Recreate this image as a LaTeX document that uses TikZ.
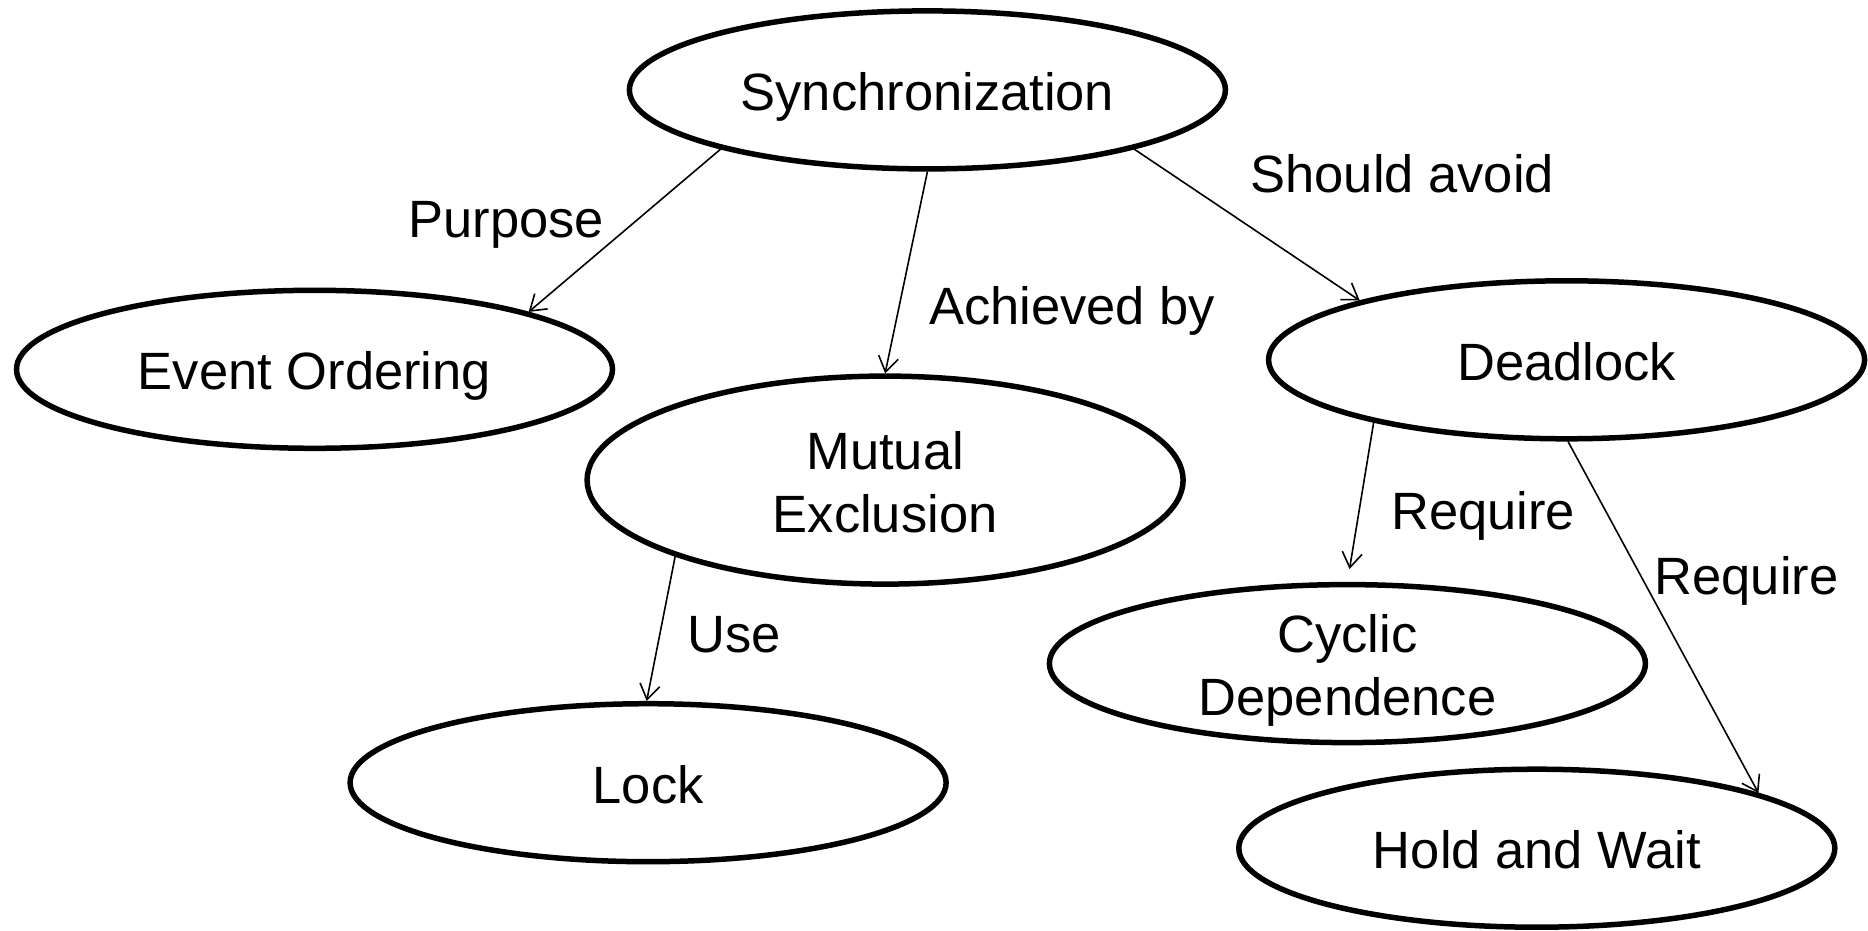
\documentclass[tikz,border=0pt]{standalone}
\usepackage{fontspec}
\setmainfont{Liberation Sans}
\usetikzlibrary{shapes.geometric,arrows.meta}
% fixed line boxes so every text sits on the same baseline grid
\newcommand\nodestrut{\rule[-11pt]{0pt}{63pt}}
\newcommand\labelstrut{\rule[-11pt]{0pt}{57pt}}
\begin{document}
\begin{tikzpicture}[x=1pt,y=-1pt,
  concept/.style={ellipse,draw,line width=5.5pt,inner sep=0pt,
    minimum width=596pt,minimum height=158pt,align=center,
    font=\fontsize{52.5}{63}\selectfont},
  rel/.style={font=\fontsize{52.5}{63}\selectfont,inner sep=0pt},
  conn/.style={line width=1.6pt,-{Straight Barb[length=15pt,width=20pt,line width=1.6pt]}}]
\useasboundingbox (0,0) rectangle (1868,931);
% concepts
\node[concept] (sync)  at (927.4,89.9)   {\nodestrut Synchronization};
\node[concept] (event) at (314.5,369.3)  {\nodestrut Event Ordering};
\node[concept,minimum height=208pt] (mutex) at (885.1,480.1)
  {\nodestrut Mutual\\Exclusion\nodestrut};
\node[concept] (dead)  at (1566.6,359.8) {\nodestrut Deadlock};
\node[concept,inner ysep=-24pt] (cyc) at (1347.4,663.6)
  {\nodestrut Cyclic\\Dependence\nodestrut};
\node[concept] (lock)  at (648.1,782.7)  {\nodestrut Lock};
\node[concept] (hold)  at (1536.8,848.2) {\nodestrut Hold and Wait};
% relations
\draw[conn] (sync.196) -- (event.15);
\draw[conn] (sync.270) -- (mutex.90);
\draw[conn] (sync.344) -- (dead.164.6);
\draw[conn] (mutex.200) -- (lock.91);
\draw[conn,shorten >=13pt] (dead.198.7) -- (cyc.90);
\draw[conn] (dead.271.6) -- (hold.14.8);
% relation labels
\node[rel] (lpurpose) at (506.3,220.4)  {\labelstrut Purpose};
\node[rel] (lachieve) at (1072.2,307.4) {\labelstrut Achieved by};
\node[rel] (lavoid)   at (1402.2,175.1) {\labelstrut Should avoid};
\node[rel] (luse)     at (733.8,635)    {\labelstrut Use};
\node[rel] (lreq1)    at (1483.2,512.3) {\labelstrut Require};
\node[rel] (lreq2)    at (1746.5,576.6) {\labelstrut Require};
\end{tikzpicture}
\end{document}
